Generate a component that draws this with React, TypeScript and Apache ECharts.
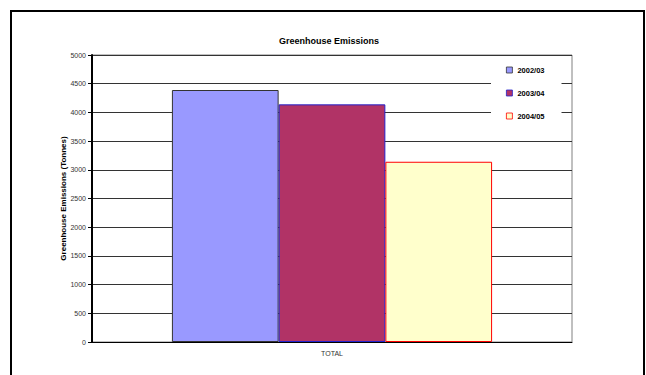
import React, { useEffect, useRef } from "react";
import * as echarts from "echarts";

const categories = ["TOTAL"];
const seriesNames = ["2002/03", "2003/04", "2004/05"];
const values2002 = [4390];
const values2003 = [4140];
const values2004 = [3140];
const yTicks = { min: 0, max: 5000, interval: 500 };

const FONT = "'Liberation Sans', Arial, sans-serif";

export default function App() {
  const ref = useRef<HTMLDivElement>(null);

  useEffect(() => {
    if (!ref.current) return;
    const chart = echarts.init(ref.current, null, { renderer: "svg" });

    const barStyle = (fill: string, border: string) => ({
      color: fill,
      borderColor: border,
      borderWidth: 1,
    });

    chart.setOption({
      animation: false,
      backgroundColor: "#ffffff",
      textStyle: { fontFamily: FONT },
      title: {
        text: "Greenhouse Emissions",
        left: 324,
        textAlign: "center",
        top: 31,
        textStyle: { fontSize: 9, fontWeight: "bold", color: "#000", fontFamily: FONT },
      },
      graphic: [
        {
          type: "rect",
          shape: { x: 11, y: 11, width: 633, height: 380 },
          style: { fill: "none", stroke: "#000", lineWidth: 2 },
          silent: true,
        },
      ],
      legend: {
        orient: "vertical",
        left: 491,
        top: 61,
        padding: [4, 17, 4, 15],
        backgroundColor: "#ffffff",
        itemWidth: 6,
        itemHeight: 6,
        itemGap: 13,
        icon: "rect",
        data: seriesNames,
        itemStyle: { borderWidth: 0.8 },
        textStyle: {
          fontSize: 7.5,
          fontWeight: "bold",
          color: "#000",
          lineHeight: 10,
          fontFamily: FONT,
        },
      },
      grid: {
        left: 92,
        right: 74,
        top: 55,
        bottom: 33,
        show: true,
        borderColor: "#808080",
        borderWidth: 1,
        backgroundColor: "transparent",
      },
      xAxis: {
        type: "category",
        data: categories,
        axisLine: { lineStyle: { color: "#000", width: 1 } },
        axisTick: { show: false },
        axisLabel: { fontSize: 7, color: "#333", margin: 8, fontFamily: FONT },
      },
      yAxis: {
        type: "value",
        min: yTicks.min,
        max: yTicks.max,
        interval: yTicks.interval,
        name: "Greenhouse Emissions (Tonnes)",
        nameLocation: "middle",
        nameGap: 25,
        nameMoveOverlap: false,
        nameTextStyle: { fontSize: 8, fontWeight: "bold", color: "#000", fontFamily: FONT },
        axisLine: { show: true, lineStyle: { color: "#000", width: 2 } },
        axisTick: { show: true, length: 4, lineStyle: { color: "#000" } },
        axisLabel: {
          fontSize: 7,
          color: "#333",
          margin: 6,
          fontFamily: FONT,
          formatter: (v: number) => String(v),
        },
        splitLine: { show: true, lineStyle: { color: "#333", width: 1 } },
      },
      series: [
        {
          name: seriesNames[0],
          type: "bar",
          data: values2002,
          barGap: "0%",
          barCategoryGap: "33.3%",
          itemStyle: barStyle("#9999FF", "#333333"),
        },
        {
          name: seriesNames[1],
          type: "bar",
          data: values2003,
          barGap: "0%",
          barCategoryGap: "33.3%",
          itemStyle: barStyle("#B13366", "#2222CC"),
        },
        {
          name: seriesNames[2],
          type: "bar",
          data: values2004,
          barGap: "0%",
          barCategoryGap: "33.3%",
          itemStyle: barStyle("#FFFFCC", "#FF0000"),
        },
      ],
    });

    return () => chart.dispose();
  }, []);

  return (
    <div
      ref={ref}
      style={{ position: "fixed", left: 0, top: 0, width: 646, height: 375 }}
    />
  );
}
